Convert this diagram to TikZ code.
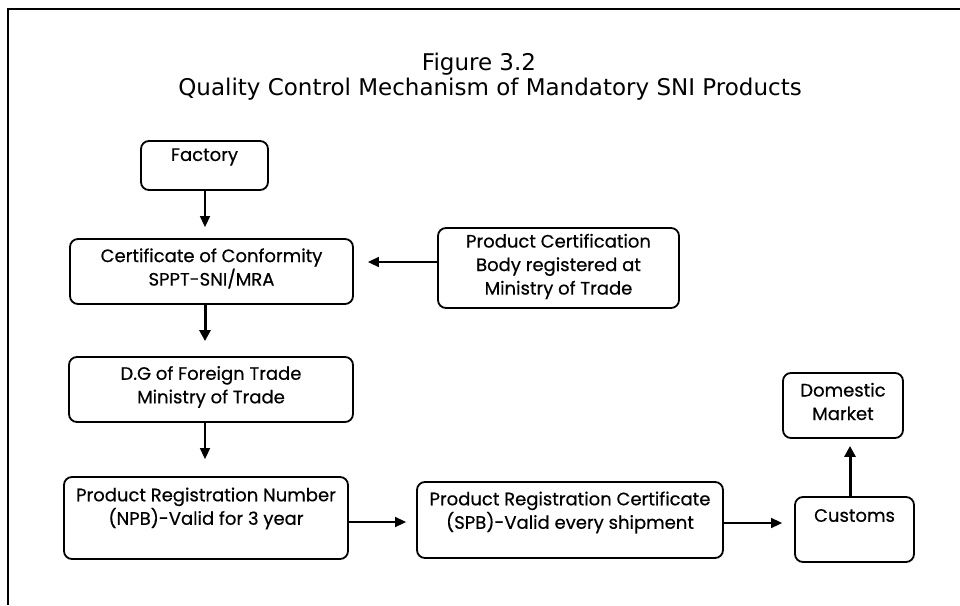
\documentclass[tikz,border=0pt]{standalone}
\usepackage{fontspec}
\setmainfont{Poppins}[FakeBold=0.5]
\newfontfamily\titlefont{DejaVu Sans}
\usetikzlibrary{arrows.meta}
\begin{document}
\begin{tikzpicture}[x=1pt,y=-1pt,
  boxstyle/.style={draw=black,line width=1.8pt,rounded corners=8pt,inner sep=0pt},
  txt/.style={align=center,font=\fontsize{18}{23.5}\selectfont,inner sep=0pt},
  thinarrow/.style={line width=1.5pt,-{Triangle[length=11pt,width=10pt]}},
  thickarrow/.style={line width=3pt,-{Triangle[length=11pt,width=11pt]}},
  framestyle/.style={line width=2pt},
  ttl/.style={font=\titlefont\fontsize{23}{25}\selectfont,inner sep=0pt,anchor=base}]
\useasboundingbox (0,0) rectangle (960,605);
% frame
\coordinate (fa) at (8,605);
\coordinate (fb) at (8,9);
\coordinate (fc) at (960,9);
\draw[framestyle] (fa) -- (fb) -- (fc);
% title
\node[ttl] (t1) at (479,70) {Figure 3.2};
\node[ttl] (t2) at (490,95) {Quality Control Mechanism of Mandatory SNI Products};
% boxes
\node[boxstyle,minimum width=127pt,minimum height=49pt] (factory) at (204.5,165.5) {};
\node[txt] (factoryT) at (204.5,157) {Factory};
\node[boxstyle,minimum width=283pt,minimum height=65pt] (coc) at (211.5,271.5) {};
\node[txt] (cocT) at (211.5,268.5) {Certificate of Conformity\\SPPT-SNI/MRA};
\node[boxstyle,minimum width=241pt,minimum height=80pt] (pcb) at (558.5,268) {};
\node[txt] (pcbT) at (558.5,266.5) {Product Certification\\Body registered at\\Ministry of Trade};
\node[boxstyle,minimum width=284pt,minimum height=65pt] (dg) at (211,389.5) {};
\node[txt] (dgT) at (211,387) {D.G of Foreign Trade\\Ministry of Trade};
\node[boxstyle,minimum width=284pt,minimum height=82pt] (prn) at (206,518) {};
\node[txt] (prnT) at (206,508.5) {Product Registration Number\\(NPB)-Valid for 3 year};
\node[boxstyle,minimum width=306pt,minimum height=76pt] (prc) at (570,520) {};
\node[txt] (prcT) at (570,512.5) {Product Registration Certificate\\(SPB)-Valid every shipment};
\node[boxstyle,minimum width=119pt,minimum height=65pt] (customs) at (854.5,529.5) {};
\node[txt] (customsT) at (854.5,515.5) {Customs};
\node[boxstyle,minimum width=120pt,minimum height=65pt] (dm) at (843,405.5) {};
\node[txt] (dmT) at (843,401.5) {Domestic\\Market};
% arrows
\draw[thinarrow] (factory.south -| 205,0) -- ([yshift=11pt]coc.north -| 205,0);
\draw[thinarrow] (pcb.west |- 0,262) -- ([xshift=14pt]coc.east |- 0,262);
\draw[thickarrow] (coc.south -| 205,0) -- ([yshift=15pt]dg.north -| 205,0);
\draw[thinarrow] (dg.south -| 205,0) -- ([yshift=17pt]prn.north -| 205,0);
\draw[thinarrow] (prn.east |- 0,522) -- ([xshift=-10pt]prc.west |- 0,522);
\draw[thinarrow] (prc.east |- 0,523) -- ([xshift=-12pt]customs.west |- 0,523);
\draw[thickarrow] (customs.north -| 850,0) -- ([yshift=-7pt]dm.south -| 850,0);
\end{tikzpicture}
\end{document}
